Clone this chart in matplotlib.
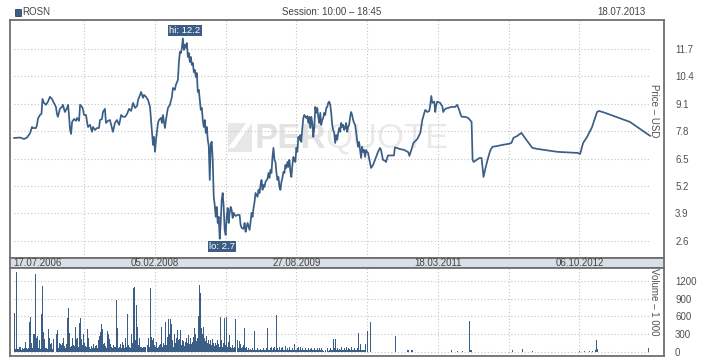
import pandas as pd
import matplotlib
matplotlib.use('Agg')
import matplotlib.pyplot as plt
from matplotlib.patches import Rectangle, Polygon

plt.rcParams['font.family'] = ['Liberation Sans', 'DejaVu Sans']

W, H = 718, 360
start = pd.Timestamp('2006-07-17')
end = pd.Timestamp('2013-07-18')

# цена ROSN, USD (дни от 17.07.2006)
price_days = [2, 26, 42, 54, 66, 74, 78, 90, 94, 98, 106, 112, 116, 122, 130, 138, 146, 154, 162, 170,
              174, 178, 186, 194, 198, 206, 215, 219, 227, 231, 235, 243, 251, 255, 263, 267, 275, 279, 283, 291,
              295, 299, 307, 315, 319, 327, 335, 343, 347, 355, 359, 367, 371, 379, 387, 395, 399, 407, 415, 424,
              432, 440, 448, 456, 464, 472, 480, 488, 496, 500, 508, 512, 520, 524, 532, 540, 548, 552, 556, 560,
              564, 568, 572, 576, 580, 584, 592, 596, 600, 608, 612, 620, 628, 636, 640, 648, 652, 660, 664, 668,
              672, 676, 680, 684, 688, 692, 696, 700, 704, 708, 712, 716, 720, 724, 728, 732, 736, 740, 744, 748,
              752, 756, 760, 764, 768, 772, 776, 780, 784, 788, 792, 796, 800, 804, 808, 812, 816, 820, 824, 828,
              832, 836, 840, 844, 848, 852, 856, 860, 864, 868, 872, 876, 880, 884, 888, 892, 900, 908, 912, 916,
              924, 928, 932, 936, 940, 948, 952, 956, 960, 964, 968, 972, 980, 984, 988, 992, 996, 1000, 1004, 1008,
              1012, 1020, 1024, 1028, 1032, 1036, 1040, 1044, 1048, 1052, 1056, 1060, 1064, 1068, 1072, 1076, 1080, 1084, 1088, 1092,
              1096, 1100, 1104, 1108, 1112, 1116, 1120, 1124, 1128, 1132, 1136, 1140, 1144, 1148, 1152, 1156, 1160, 1164, 1168, 1172,
              1176, 1180, 1184, 1188, 1192, 1196, 1200, 1204, 1208, 1212, 1216, 1220, 1224, 1228, 1232, 1236, 1240, 1244, 1248, 1252,
              1256, 1260, 1264, 1268, 1272, 1276, 1280, 1284, 1288, 1292, 1296, 1300, 1304, 1308, 1312, 1316, 1320, 1324, 1328, 1332,
              1336, 1340, 1344, 1348, 1352, 1356, 1360, 1364, 1368, 1372, 1376, 1380, 1384, 1388, 1392, 1396, 1400, 1404, 1408, 1412,
              1416, 1420, 1424, 1436, 1444, 1452, 1464, 1472, 1476, 1480, 1484, 1492, 1496, 1504, 1528, 1532, 1540, 1550, 1570, 1586,
              1590, 1598, 1606, 1622, 1634, 1642, 1650, 1654, 1662, 1670, 1674, 1678, 1682, 1690, 1694, 1698, 1702, 1714, 1718, 1722,
              1726, 1734, 1746, 1758, 1774, 1782, 1790, 1798, 1802, 1814, 1826, 1840, 1844, 1848, 1860, 1872, 1880, 1884, 1888, 1896,
              1904, 1912, 1916, 1924, 1944, 1964, 1988, 2000, 2008, 2024, 2040, 2060, 2084, 2104, 2186, 2266, 2276, 2288, 2304, 2324,
              2344, 2352, 2376, 2476, 2557]
price_usd = [7.48, 7.50, 7.43, 7.50, 7.70, 8.00, 7.95, 7.95, 8.10, 8.40, 8.57, 8.62, 9.33, 9.14, 9.05, 9.20, 9.43, 9.33, 9.14, 8.95,
             8.62, 8.48, 8.86, 8.95, 9.05, 8.71, 8.90, 9.05, 7.86, 7.67, 8.24, 8.38, 8.29, 8.43, 8.29, 9.05, 8.95, 8.81, 8.57, 8.57,
             8.24, 8.00, 8.10, 7.77, 8.00, 7.86, 7.95, 7.95, 8.33, 8.38, 8.71, 8.86, 8.19, 8.29, 8.33, 7.95, 7.77, 8.19, 8.33, 8.10,
             8.57, 8.48, 8.48, 8.62, 8.86, 8.76, 9.14, 8.90, 9.00, 9.28, 9.52, 9.66, 9.38, 9.52, 9.43, 9.28, 8.95, 8.33, 7.72, 7.15,
             7.53, 6.82, 7.39, 7.77, 8.19, 8.33, 8.43, 8.19, 8.57, 7.95, 8.33, 8.90, 9.05, 9.43, 9.85, 9.76, 10.00, 10.23, 11.04, 11.56,
             11.50, 11.75, 12.20, 11.65, 11.90, 11.75, 11.98, 11.32, 11.50, 11.08, 11.32, 10.94, 11.04, 10.60, 10.70, 10.37, 10.56, 9.66, 9.76, 9.28,
             8.81, 8.90, 8.33, 8.00, 8.33, 7.72, 8.00, 7.39, 7.10, 5.49, 7.20, 7.30, 6.44, 4.69, 4.31, 3.74, 4.21, 3.45, 3.74, 2.70,
             3.45, 4.54, 4.87, 4.21, 3.12, 2.88, 3.74, 4.16, 3.45, 3.93, 4.21, 4.07, 3.69, 3.93, 3.83, 3.78, 3.83, 3.83, 3.36, 3.22,
             3.17, 3.45, 3.03, 3.26, 3.45, 3.12, 3.50, 3.93, 3.74, 4.16, 4.45, 4.87, 4.69, 5.02, 4.87, 5.25, 5.49, 5.02, 5.25, 5.16,
             5.40, 5.54, 5.82, 5.59, 5.96, 5.82, 6.58, 7.01, 6.44, 6.34, 5.82, 5.49, 5.63, 5.16, 5.02, 5.40, 5.59, 5.87, 5.82, 6.20,
             6.06, 6.34, 6.11, 6.44, 5.87, 5.63, 6.20, 6.58, 6.44, 6.34, 7.01, 6.82, 7.53, 7.39, 7.62, 7.29, 7.95, 8.43, 8.57, 8.48,
             8.43, 8.52, 8.19, 8.48, 7.95, 8.48, 8.19, 7.53, 7.95, 8.95, 8.67, 8.90, 8.48, 8.19, 8.67, 8.10, 8.33, 8.43, 8.67, 8.57,
             8.90, 8.95, 9.14, 9.20, 9.05, 8.67, 8.10, 7.86, 7.72, 7.24, 7.62, 7.39, 7.72, 7.95, 7.77, 8.19, 8.00, 8.10, 7.86, 7.95,
             8.19, 7.77, 8.00, 8.10, 8.48, 8.71, 8.57, 8.33, 8.19, 8.10, 7.77, 7.39, 7.06, 7.29, 6.91, 6.53, 7.06, 6.82, 6.91, 6.58,
             6.91, 6.82, 6.77, 6.06, 6.20, 6.44, 6.82, 7.01, 6.91, 6.68, 6.44, 6.40, 6.34, 6.65, 6.65, 7.03, 7.01, 6.96, 6.91, 6.80,
             6.63, 6.91, 7.24, 7.43, 7.72, 8.33, 8.67, 8.81, 8.71, 8.76, 9.05, 9.47, 9.14, 9.20, 8.71, 9.05, 9.20, 9.14, 9.05, 9.00,
             8.71, 8.86, 8.90, 8.95, 8.95, 9.05, 8.81, 8.52, 8.48, 8.48, 8.43, 8.24, 6.44, 6.34, 6.44, 6.53, 6.53, 6.06, 5.63, 6.06,
             6.44, 6.77, 6.91, 7.06, 7.10, 7.15, 7.20, 7.24, 7.48, 7.58, 7.72, 7.39, 7.01, 6.96, 6.82, 6.77, 6.72, 7.24, 7.53, 8.00,
             8.71, 8.76, 8.67, 8.24, 7.58]

# объём, тыс. шт. (частые торги: шаг 4 дня от 19.07.2006)
vol_dense = [667, 57, 1345, 57, 45, 90, 90, 34, 60, 57, 73, 175, 60, 57, 73, 514, 599, 158, 73, 300,
             300, 1316, 243, 271, 300, 73, 198, 57, 638, 1119, 345, 215, 73, 73, 45, 384, 243, 141, 158, 45,
             226, 0, 0, 311, 367, 73, 158, 130, 113, 158, 232, 102, 73, 130, 582, 740, 328, 85, 102, 232,
             119, 102, 424, 215, 232, 85, 486, 582, 215, 119, 311, 158, 102, 85, 384, 243, 85, 57, 102, 73,
             130, 73, 102, 119, 73, 198, 271, 345, 469, 384, 141, 158, 102, 60, 356, 300, 215, 141, 85, 73,
             119, 85, 85, 876, 401, 73,
             90, 130, 60, 170, 110, 60, 240, 90, 650, 120, 80, 60, 300, 150, 1085, 1100, 200, 790, 420, 120,
             240, 80, 90, 60, 80, 90, 80, 0, 110, 240, 90, 1085, 260, 200, 240, 120, 90, 170, 70, 90,
             110, 130, 430, 90, 150, 110, 500, 120, 250, 565, 300, 560, 480, 200, 90, 300, 150, 240, 380, 200,
             220, 380, 120, 200, 180, 100, 170, 240, 160, 280, 140, 240, 140, 170, 260, 410, 300, 180, 240, 600,
             1140, 990, 400, 300, 430, 240, 180, 270, 160, 200, 130, 200, 120, 220, 150, 100, 160, 120, 200, 140,
             90, 590, 200, 90, 150, 570, 110, 590, 80, 170, 280, 90, 70, 110, 60, 80, 560, 0, 200, 60,
             190, 140, 60, 80, 120, 400, 60, 90, 40, 60, 40, 50, 40, 60, 40, 350, 40, 30, 60, 40,
             30, 50, 40, 30, 60, 40, 30, 40, 60, 400, 40, 30, 60, 90, 40, 60, 80, 40, 630, 60,
             40, 80, 30, 60, 90, 40, 30, 100, 40, 60, 30, 80, 40, 30, 60, 40, 140, 30, 40, 60,
             80, 30, 90, 40, 60, 30, 40, 70, 30, 40, 60, 30, 50, 70, 40, 30, 60, 40, 30, 60,
             40, 70, 30, 60, 40, 20, 0, 30, 0, 60, 20, 40, 60, 30, 40, 225, 60, 225, 40, 70,
             30, 50, 40, 90, 40, 30, 60, 40, 90, 30, 60, 50, 40, 90, 40, 30, 60, 40, 30, 60,
             317, 40, 136, 40, 40, 40, 40, 130, 0, 357, 0, 0, 515]
# редкие торги после 2010 года
vol_sparse_days = [1456, 1472, 1476, 1480, 1492, 1496, 1504, 1512, 1520, 1536, 1584, 1588, 1600, 1604, 1641,
                   1645, 1649, 1653, 1657, 1661, 1665, 1681, 1701, 1713, 1729, 1733, 1753, 1761, 1785, 1805,
                   1833, 1837, 1841, 1886, 1922, 2006, 2046, 2086, 2275, 2295, 2315, 2327, 2339, 2343, 2347,
                   2372, 2552]
vol_sparse = [51, 90, 60, 40, 30, 30, 30, 30, 30, 272, 30, 30, 30, 30, 40,
              60, 200, 120, 170, 90, 60, 60, 60, 30, 100, 60, 30, 30, 20, 20,
              526, 40, 30, 30, 30, 30, 50, 20, 20, 20, 20, 20, 30, 200, 50,
              20, 73]

price_ticks = [2.6, 3.9, 5.2, 6.5, 7.8, 9.1, 10.4, 11.7]
vol_ticks = [0, 300, 600, 900, 1200]
date_labels = ['17.07.2006', '05.02.2008', '27.08.2009', '18.03.2011', '06.10.2012']

blue = '#3b5e86'
frame = '#6f6f6f'
grid = '#c4c4c4'
txt = '#505050'

p_dates = start + pd.to_timedelta(price_days, unit='D')
v_dates = pd.date_range(start + pd.Timedelta(days=2), periods=len(vol_dense), freq='4D')
s_dates = start + pd.to_timedelta(vol_sparse_days, unit='D')
lbl_dates = pd.to_datetime(date_labels, format='%d.%m.%Y')
grid_dates = pd.date_range(lbl_dates[0], lbl_dates[-1], periods=9)[1:]
x_lo = start - pd.Timedelta(days=14.5)
x_hi = start + pd.Timedelta(days=2613)

fig = plt.figure(figsize=(W / 100, H / 100), dpi=100)


def px_axes(l, t, r, b):
    return fig.add_axes([l / W, 1 - b / H, (r - l) / W, (b - t) / H])


ax = px_axes(10, 20, 664, 258)
band = px_axes(10, 258, 664, 268)
axv = px_axes(10, 268, 664, 356)

for a in (ax, band, axv):
    a.set_xlim(x_lo, x_hi)
    a.set_xticks([])
    for s in a.spines.values():
        s.set_color(frame)
        s.set_linewidth(1.3)

# ценовая панель
ax.set_ylim(1.79, 13.07)
ax.hlines(price_ticks, start, end, colors=grid, linestyles=(0, (1, 2)), lw=0.8, zorder=1)
for d in grid_dates:
    ax.axvline(d, color=grid, ls=(0, (1, 2)), lw=0.8, zorder=1)
ax.plot(p_dates, price_usd, color=blue, lw=1.25, zorder=3)
ax.yaxis.tick_right()
ax.set_yticks(price_ticks)
ax.set_yticklabels(['%.1f' % t for t in price_ticks])
ax.tick_params(axis='y', length=0, pad=8, labelsize=7, labelcolor=txt)
ax.text(0.993, 0.62, 'Price – USD', transform=ax.transAxes, rotation=-90,
        ha='right', va='center', fontsize=7, color=txt)

# максимум и минимум
hi_i = price_usd.index(max(price_usd))
lo_i = price_usd.index(min(price_usd))
box = dict(boxstyle='square,pad=0.12', fc=blue, ec='none')
ax.annotate('hi: %.1f' % price_usd[hi_i], xy=(p_dates[hi_i], price_usd[hi_i]), xytext=(1.5, 5.5),
            textcoords='offset points', ha='center', va='center', color='white', fontsize=6.8, bbox=box, zorder=5)
ax.annotate('lo: %.1f' % price_usd[lo_i], xy=(p_dates[lo_i], price_usd[lo_i]), xytext=(1.8, -5.4),
            textcoords='offset points', ha='center', va='center', color='white', fontsize=6.8, bbox=box, zorder=5)

# водяной знак
ax.add_patch(Rectangle((228 / W, 1 - 152 / H), 24 / W, 29 / H, transform=fig.transFigure,
                       fc='#e7e7e7', ec='none', zorder=0))
ax.add_patch(Polygon([(228 / W, 1 - 148 / H), (246 / W, 1 - 123 / H), (252 / W, 1 - 123 / H), (234 / W, 1 - 148 / H)],
                     closed=True, transform=fig.transFigure, fc='white', ec='none', zorder=0))
ax.text(255 / W, 1 - 138 / H, 'PER', transform=fig.transFigure, fontsize=25, fontweight='bold',
        color='#e3e3e3', ha='left', va='center', zorder=0)
ax.text(325 / W, 1 - 138 / H, 'QUOTE', transform=fig.transFigure, fontsize=25,
        color='#eaeaea', ha='left', va='center', zorder=0)

# полоса дат
band.set_facecolor('#d8dfe6')
band.set_ylim(0, 1)
band.set_yticks([])
for i, (d, s) in enumerate(zip(lbl_dates, date_labels)):
    band.text(d, 0.45, s, ha='left' if i == 0 else 'center', va='center', fontsize=7, color='#444444')

# объёмы
axv.set_ylim(-68, 1420)
axv.hlines(vol_ticks, start, end, colors=grid, linestyles=(0, (1, 2)), lw=0.8, zorder=1)
for d in grid_dates:
    axv.axvline(d, color=grid, ls=(0, (1, 2)), lw=0.8, zorder=1)
axv.bar(v_dates, vol_dense, width=4, color=blue, lw=0, zorder=2)
axv.bar(s_dates, vol_sparse, width=3.5, color=blue, lw=0, zorder=2)
axv.yaxis.tick_right()
axv.set_yticks(vol_ticks)
axv.tick_params(axis='y', length=0, pad=8, labelsize=7, labelcolor=txt)
axv.text(0.993, 0.62, 'Volume – 1 000', transform=axv.transAxes, rotation=-90,
         ha='right', va='center', fontsize=7, color=txt)

# заголовок
fig.patches.append(Rectangle((15 / W, 1 - 16 / H), 6 / W, 7 / H, transform=fig.transFigure,
                             fc=blue, ec='#2c4766', lw=0.6))
fig.text(22 / W, 1 - 12 / H, 'ROSN', fontsize=7, color='#444444', va='center', ha='left')
fig.text(332 / W, 1 - 12 / H, 'Session: 10:00 – 18:45', fontsize=7, color='#444444', va='center', ha='center')
fig.text(646 / W, 1 - 12 / H, '18.07.2013', fontsize=7, color='#444444', va='center', ha='right')

fig.savefig('out.png', dpi=100)
